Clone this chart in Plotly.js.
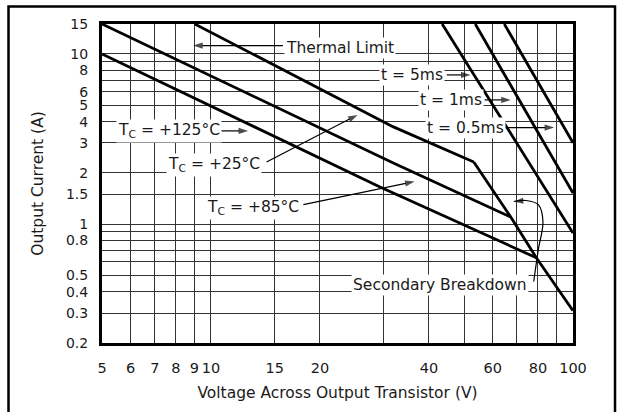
<!DOCTYPE html>
<html><head><meta charset="utf-8">
<script src="https://cdn.plot.ly/plotly-3.0.1.min.js"></script>
<style>html,body{margin:0;padding:0;background:#fff}#chart{width:618px;height:412px}</style>
</head><body><div id="chart"></div>
<script>
// DC thermal-limit curves: voltage across transistor (V) and output current (A)
const tc25V  = [9.02, 31.8, 53.2];
const tc25I  = [15, 3.74, 2.32];
const tc85V  = [5, 32.0, 67.3];
const tc85I  = [15, 2.28, 1.10];
const tc125V = [5, 29.2, 79.2];
const tc125I = [10, 1.66, 0.634];
// Secondary breakdown limit
const sbV = [53.2, 67.3, 79.2, 100];
const sbI = [2.32, 1.10, 0.634, 0.31];
// Pulsed limits
const p5msV  = [43.5, 100];
const p5msI  = [15, 0.886];
const p1msV  = [53.7, 100];
const p1msI  = [15, 1.52];
const p05msV = [64.6, 100];
const p05msI = [15, 3.0];

// Axis tick labels and extra grid lines
const xTickVals  = [5,6,7,8,9,10,15,20,40,60,80,100];
const xTickText  = ['5','6','7','8','9','10','15','20','40','60','80','100'];
const xGridExtra = [30,50,70,90];
const yTickVals  = [0.2,0.3,0.4,0.5,0.8,1,1.5,2,3,4,5,6,8,10,15];
const yTickText  = ['0.2','0.3','0.4','0.5','0.8','1','1.5','2','3','4','5','6','8','10','15'];
const yGridExtra = [0.6,0.7,0.9,7,9];

// Label texts
const labelTexts = ['Thermal Limit','t = 5ms','t = 1ms','t = 0.5ms',
  'T<sub>C</sub> = +125°C','T<sub>C</sub> = +25°C','T<sub>C</sub> = +85°C','Secondary Breakdown'];

const L = Math.log10;
const FONT = 'DejaVu Sans, Liberation Sans, Arial, sans-serif';
const INK = '#1a1a1a';
const lineStyle = {color:'#000', width:2.8};

function curve(x, y){
  return {x:x, y:y, type:'scatter', mode:'lines', line:lineStyle, hoverinfo:'skip'};
}
// leader line ending in an arrowhead (annotation geometry, data coordinates)
function leader(x, y, spline){
  return {x:x, y:y, type:'scatter', mode:'lines+markers', hoverinfo:'skip',
    line:{color:'#000', width:1.2, shape: spline ? 'spline' : 'linear', smoothing:1},
    marker:{symbol:'arrow', angleref:'previous', color:'#000',
      size:x.map((_,i)=> i===x.length-1 ? 10 : 0), line:{width:0}}};
}

const traces = [
  curve(tc25V, tc25I), curve(tc85V, tc85I), curve(tc125V, tc125I),
  curve(sbV, sbI), curve(p5msV, p5msI), curve(p1msV, p1msI), curve(p05msV, p05msI),
  leader([15.8, 8.93], [11.2, 11.2]),
  leader([44.8, 52.1], [7.53, 7.53]),
  leader([57.0, 67.3], [5.37, 5.37]),
  leader([63.5, 88.7], [3.69, 3.69]),
  leader([10.49, 12.66], [3.53, 3.53]),
  leader([14.24, 25.4], [2.32, 4.38]),
  leader([18.0, 36.5], [1.30, 1.78]),
  leader([77.9, 80.2, 82.6, 80.2, 74.2, 68.6], [0.46, 0.707, 1.035, 1.30, 1.376, 1.358], true)
];

// label placement (data coordinates)
const labelPos = [[22.7,10.85],[35.8,7.53],[45.9,5.37],[50.5,3.69],[7.65,3.53],[10.18,2.23],[13.04,1.247],[42.8,0.44]];
const annotations = labelTexts.map((t,i)=>({
  text:t, xref:'x', yref:'y', x:L(labelPos[i][0]), y:L(labelPos[i][1]),
  showarrow:false, bgcolor:'#fff', borderpad:1,
  font:{family:FONT, size:15.5, color:INK}, xanchor:'center', yanchor:'middle'
}));

const gridStyle = {showgrid:true, gridcolor:'#333', gridwidth:1};
const layout = {
  width:618, height:412,
  margin:{l:102, r:45, t:24, b:69, pad:0},
  paper_bgcolor:'#fff', plot_bgcolor:'#fff',
  showlegend:false,
  font:{family:FONT, size:14, color:INK},
  xaxis:Object.assign({type:'log', range:[L(5), 2], tickmode:'array', tickvals:xTickVals, ticktext:xTickText,
    tickangle:0, ticks:'', zeroline:false, tickfont:{size:14.5},
    minor:Object.assign({tickmode:'array', tickvals:xGridExtra, ticks:''}, gridStyle),
    showline:true, mirror:true, linecolor:'#000', linewidth:3, ticklabelstandoff:10,
    title:{text:'Voltage Across Output Transistor (V)', standoff:12, font:{family:FONT, size:15.5, color:INK}},
    fixedrange:true}, gridStyle),
  yaxis:Object.assign({type:'log', range:[L(0.2), L(15)], tickmode:'array', tickvals:yTickVals, ticktext:yTickText,
    ticks:'', zeroline:false, tickfont:{size:14},
    minor:Object.assign({tickmode:'array', tickvals:yGridExtra, ticks:''}, gridStyle),
    showline:true, mirror:true, linecolor:'#000', linewidth:3, ticklabelstandoff:8,
    title:{text:'Output Current (A)', standoff:19, font:{family:FONT, size:15.5, color:INK}},
    fixedrange:true}, gridStyle),
  annotations:annotations,
  shapes:[{type:'rect', xref:'paper', yref:'paper', x0:-0.1985, x1:1.0892, y0:-0.25, y1:1.0549,
    line:{color:'#000', width:2.5}, fillcolor:'rgba(0,0,0,0)', layer:'above'}]
};

Plotly.newPlot('chart', traces, layout, {displayModeBar:false, staticPlot:true});
</script>
</body></html>
